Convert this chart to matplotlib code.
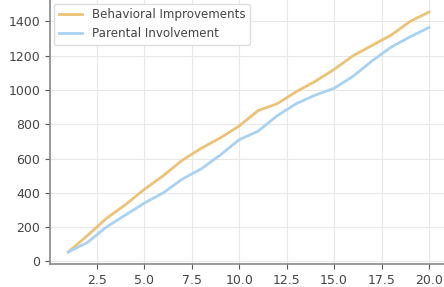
import numpy as np
import matplotlib.pyplot as plt

weeks = list(range(1, 21))
behavioral = [55, 150, 250, 330, 420, 500, 590, 660, 720, 790,
              880, 920, 990, 1050, 1120, 1200, 1260, 1320, 1400, 1455]
parental = [55, 110, 200, 270, 340, 400, 480, 540, 620, 710,
            760, 850, 920, 970, 1010, 1080, 1170, 1250, 1310, 1365]

plt.rcParams['font.size'] = 9

fig = plt.figure(figsize=(4.44, 2.87), dpi=100)
ax = fig.add_axes([0.113, 0.08, 0.894, 0.92])
ax.set_axisbelow(True)
ax.grid(color='#e8e8e8', linewidth=0.8)

ax.plot(weeks, behavioral, color='#ecc376', linewidth=2, label='Behavioral Improvements')
ax.plot(weeks, parental, color='#a9d2f2', linewidth=2, label='Parental Involvement')

ax.set_xticks([2.5, 5.0, 7.5, 10.0, 12.5, 15.0, 17.5, 20.0])
ax.set_yticks(np.arange(0, 1401, 200))
for s in ['top', 'right']:
    ax.spines[s].set_visible(False)
for s in ['left', 'bottom']:
    ax.spines[s].set_color('#888888')
    ax.spines[s].set_linewidth(1.2)
ax.tick_params(colors='#555555', labelcolor='#444444', labelsize=9)

ax.legend(loc='upper left', fontsize=8.6, frameon=True, edgecolor='#dddddd',
          framealpha=1, borderaxespad=0.3, labelcolor='#444444')

plt.savefig('out.png', dpi=100)
